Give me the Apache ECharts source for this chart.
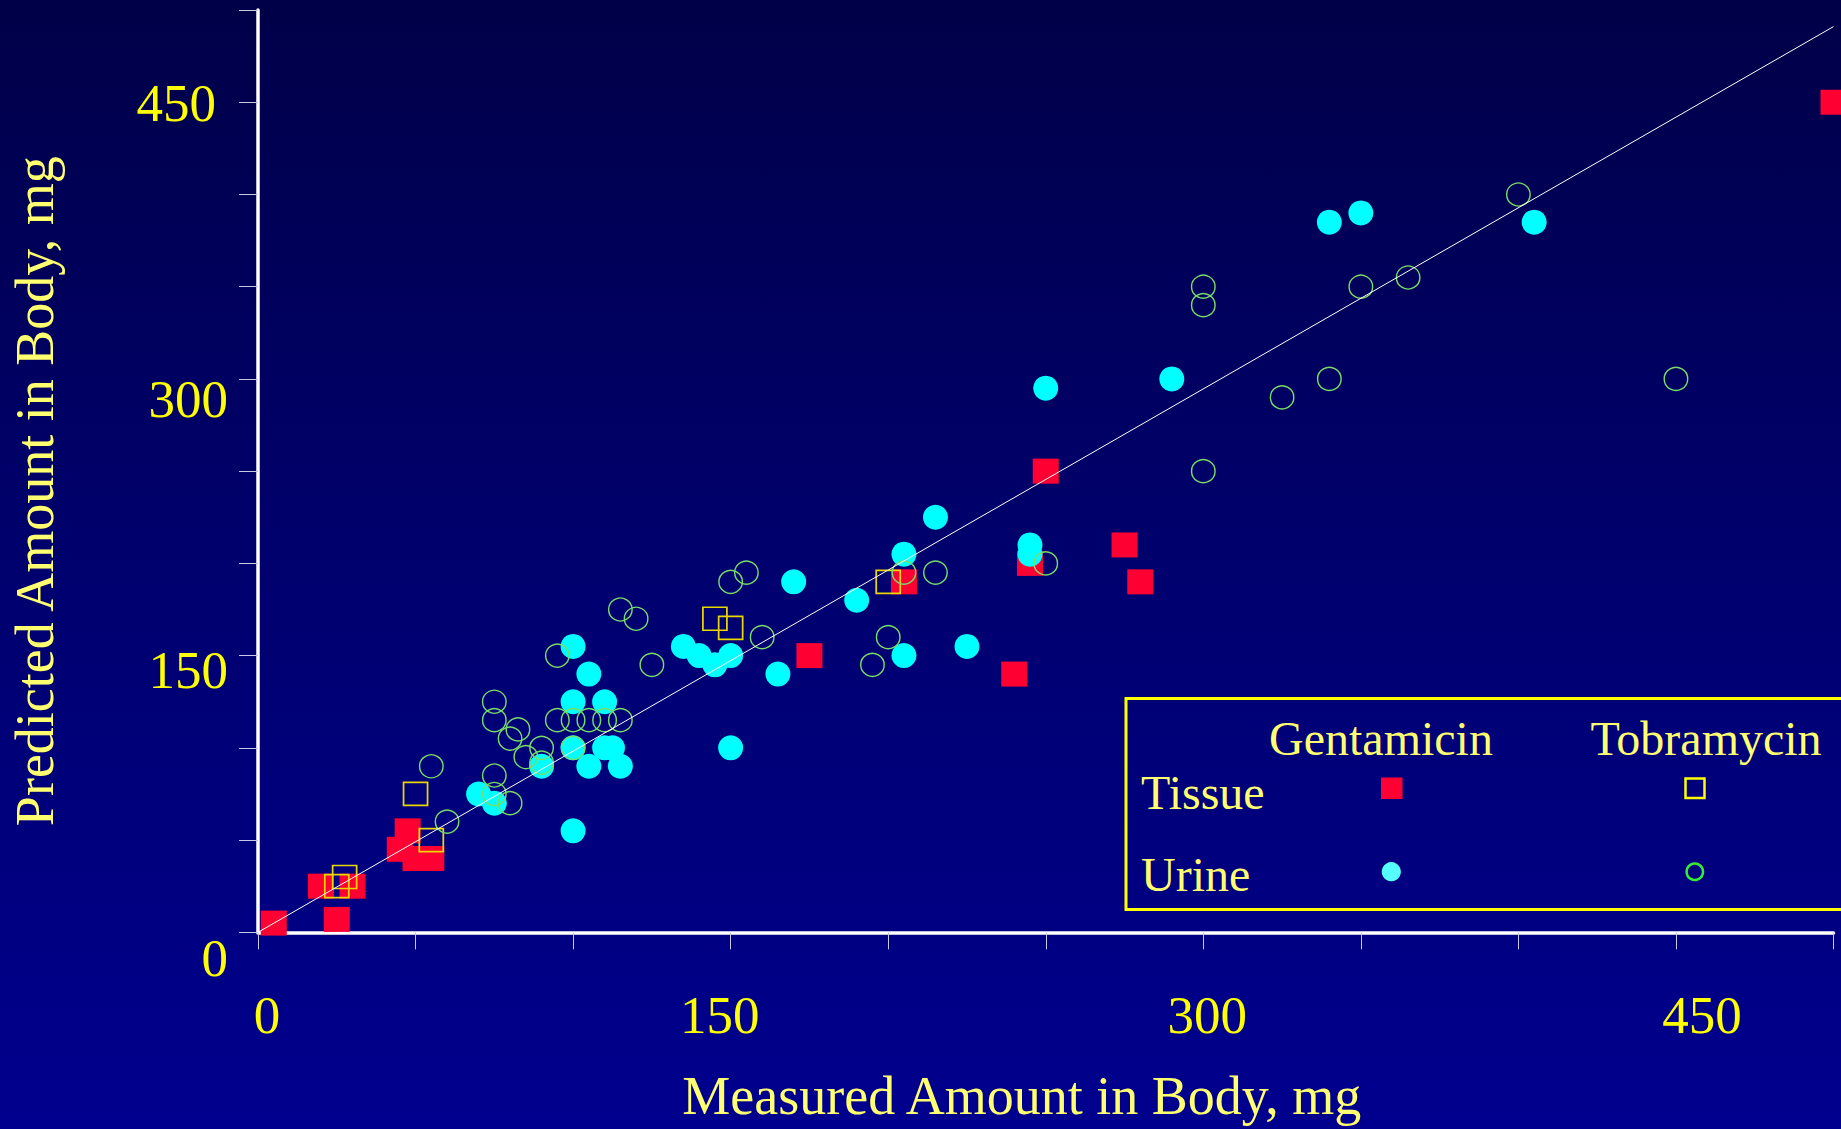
<!DOCTYPE html>
<html>
<head>
<meta charset="utf-8">
<script src="https://cdn.jsdelivr.net/npm/echarts@6/dist/echarts.min.js"></script>
<style>
  html, body { margin: 0; padding: 0; }
  body { width: 1841px; height: 1129px; background: linear-gradient(to bottom, #000048 0%, #00006e 50%, #00008e 100%); }
  #chart { width: 1841px; height: 1129px; }
</style>
</head>
<body>
<div id="chart"></div>
<script>
// ---- axis ticks / labels ----
const xTickValues = [0, 50, 100, 150, 200, 250, 300, 350, 400, 450, 500];
const yTickValues = [0, 50, 100, 150, 200, 250, 300, 350, 400, 450, 500];
const xLabelValues = [0, 150, 300, 450];
const yLabelValues = [0, 150, 300, 450];

// ---- data: [measured, predicted] in mg ----
const gentamicinTissue = [
  [5, 5], [25, 7], [20, 25], [30, 25], [47.5, 55], [45, 45], [50, 40], [55, 40],
  [175, 150], [205, 190], [245, 200], [240, 140], [250, 250], [275, 210], [280, 190], [500, 450]
];
const tobramycinTissue = [
  [25, 25], [27.5, 30], [50, 75], [55, 50], [145, 170], [150, 165], [200, 190]
];
const gentamicinUrine = [
  [70, 75], [75, 70], [90, 90], [100, 155], [100, 125], [100, 100], [100, 55], [105, 140],
  [105, 90], [110, 125], [110, 100], [112.5, 100], [115, 90], [135, 155], [140, 150], [145, 145],
  [150, 150], [150, 100], [165, 140], [170, 190], [190, 180], [205, 205], [205, 150], [215, 225],
  [225, 155], [245, 210], [245, 205], [250, 295], [290, 300], [340, 385], [350, 390], [405, 385]
];
const tobramycinUrine = [
  [55, 90], [60, 60], [75, 125], [75, 115], [75, 85], [75, 75], [80, 70], [80, 105],
  [82.5, 110], [85, 95], [90, 100], [90, 92], [95, 150], [95, 115], [100, 115], [105, 115],
  [110, 115], [115, 115], [100, 100], [115, 175], [120, 170], [125, 145], [150, 190], [155, 195],
  [160, 160], [195, 145], [200, 160], [205, 195], [215, 195], [250, 200], [300, 350], [300, 340],
  [300, 250], [325, 290], [340, 300], [350, 350], [365, 355], [400, 400], [450, 300]
];
const identityLine = [[0, 0], [500, 491]];

// ---- text ----
const xTitle = 'Measured Amount in Body, mg';
const yTitle = 'Predicted Amount in Body, mg';
const legendCols = ['Gentamicin', 'Tobramycin'];
const legendRows = ['Tissue', 'Urine'];

const SERIF = '"Liberation Serif", "Times New Roman", Times, serif';
const TICK_YELLOW = '#ffff00';
const TEXT_YELLOW = '#ffff70';
const LABEL_FONT = { fontFamily: SERIF, fontSize: 53, color: TICK_YELLOW };

// hand-placed label nudges of the original slide (padding: top, right, bottom, left)
const xLabelPadding = { 0: [0, 0, 0, 18], 150: [0, 22, 0, 0], 300: [0, 0, 0, 8], 450: [0, 0, 0, 52] };
const yLabelPadding = { 0: [52, 0, 0, 0], 150: [28, 0, 0, 0], 300: [40, 0, 0, 0], 450: [2, 12, 0, 0] };

function richFor(pads) {
  const r = {};
  Object.keys(pads).forEach(function (k) {
    r['v' + k] = Object.assign({ padding: pads[k] }, LABEL_FONT);
  });
  return r;
}
function fmt(v) { return '{v' + v + '|' + v + '}'; }

const chart = echarts.init(document.getElementById('chart'), null, { renderer: 'svg' });

const axisCommon = {
  type: 'value', min: 0, max: 500, interval: 50,
  splitLine: { show: false },
  axisLine: { show: true, lineStyle: { color: '#ffffff', width: 3.5 } },
  nameLocation: 'middle'
};

const option = {
  animation: false,
  backgroundColor: 'transparent',
  grid: { left: 257.6, right: 7.5, top: 10, bottom: 196.7, containLabel: false },
  xAxis: Object.assign({}, axisCommon, {
    name: xTitle,
    nameGap: 137,
    nameTextStyle: { fontFamily: SERIF, fontSize: 54, color: TEXT_YELLOW, padding: [0, 48, 0, 0] },
    axisTick: { show: true, length: 17, customValues: xTickValues, lineStyle: { color: '#c8c8e0', width: 1 } },
    axisLabel: Object.assign({ customValues: xLabelValues, margin: 56, formatter: fmt, rich: richFor(xLabelPadding) }, LABEL_FONT)
  }),
  yAxis: Object.assign({}, axisCommon, {
    name: yTitle,
    nameGap: 196,
    nameTextStyle: { fontFamily: SERIF, fontSize: 54, color: TEXT_YELLOW, padding: [0, 40, 0, 0] },
    axisTick: { show: true, length: 19, customValues: yTickValues, lineStyle: { color: '#c8c8e0', width: 1 } },
    axisLabel: Object.assign({ customValues: yLabelValues, margin: 30, formatter: fmt, rich: richFor(yLabelPadding) }, LABEL_FONT)
  }),
  series: [
    {
      name: 'Gentamicin Tissue', type: 'scatter', data: gentamicinTissue, clip: false, z: 2,
      symbol: 'rect', symbolSize: [26, 25],
      itemStyle: { color: '#ff0033', opacity: 1 }
    },
    {
      name: 'Gentamicin Urine', type: 'scatter', data: gentamicinUrine, clip: false, z: 3,
      symbol: 'circle', symbolSize: [25, 25],
      itemStyle: { color: '#00ffff', opacity: 1 }
    },
    {
      name: 'Tobramycin Tissue', type: 'scatter', data: tobramycinTissue, clip: false, z: 4,
      symbol: 'rect', symbolSize: [24, 23],
      itemStyle: { color: 'rgba(0,0,0,0)', borderColor: '#e8d800', borderWidth: 1.7, opacity: 1 }
    },
    {
      name: 'Tobramycin Urine', type: 'scatter', data: tobramycinUrine, clip: false, z: 5,
      symbol: 'circle', symbolSize: [23.5, 23],
      itemStyle: { color: 'rgba(0,0,0,0)', borderColor: '#77dd66', borderWidth: 1.4, opacity: 1 }
    },
    {
      name: 'Identity', type: 'line', data: identityLine, z: 6, symbol: 'none', silent: true,
      lineStyle: { color: '#ffffff', width: 1 }
    }
  ],
  graphic: [
    { type: 'rect', z: 10, shape: { x: 1126, y: 698.5, width: 730, height: 211 },
      style: { fill: 'none', stroke: '#ffff00', lineWidth: 3 } },
    { type: 'text', z: 10, style: { text: legendCols[0], x: 1381, y: 738, textAlign: 'center', textVerticalAlign: 'middle',
      fontFamily: SERIF, fontSize: 48, fill: TEXT_YELLOW } },
    { type: 'text', z: 10, style: { text: legendCols[1], x: 1706, y: 738, textAlign: 'center', textVerticalAlign: 'middle',
      fontFamily: SERIF, fontSize: 48, fill: TEXT_YELLOW } },
    { type: 'text', z: 10, style: { text: legendRows[0], x: 1141, y: 792, textAlign: 'left', textVerticalAlign: 'middle',
      fontFamily: SERIF, fontSize: 48, fill: TEXT_YELLOW } },
    { type: 'text', z: 10, style: { text: legendRows[1], x: 1141, y: 874.5, textAlign: 'left', textVerticalAlign: 'middle',
      fontFamily: SERIF, fontSize: 48, fill: TEXT_YELLOW } },
    { type: 'rect', z: 10, shape: { x: 1381, y: 777.5, width: 21.5, height: 21.5 },
      style: { fill: '#ff0033' } },
    { type: 'rect', z: 10, shape: { x: 1685.5, y: 778.5, width: 19, height: 19.5 },
      style: { fill: 'none', stroke: '#ffff00', lineWidth: 2.5 } },
    { type: 'circle', z: 10, shape: { cx: 1391.3, cy: 871.7, r: 9.6 },
      style: { fill: '#55ffff' } },
    { type: 'circle', z: 10, shape: { cx: 1694.8, cy: 871.7, r: 8.2 },
      style: { fill: 'none', stroke: '#33ee33', lineWidth: 2.5 } }
  ]
};

chart.setOption(option);
</script>
</body>
</html>
